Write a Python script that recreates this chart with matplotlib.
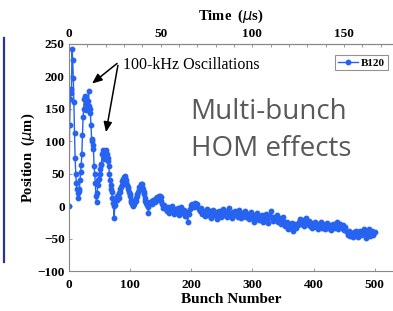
import numpy as np
import matplotlib
matplotlib.use("Agg")
import matplotlib.pyplot as plt
from matplotlib.lines import Line2D

# ---- data ----
bunch_early = list(range(0, 153))
pos_early = [0, 125, 165, 175, 180, 243, 226, 198, 160, 113,
             75, 50, 36, 26, 20, 12, 24, 27, 40, 52,
             63, 80, 110, 137, 150, 165, 170, 158, 148, 156,
             150, 162, 178, 155, 150, 143, 125, 104, 100, 95,
             88, 62, 50, 35, 15, 6, 20, 33, 40, 42,
             50, 58, 63, 65, 80, 87, 82, 76, 73, 75,
             80, 87, 80, 75, 70, 62, 50, 40, 32, 26,
             22, 12, 5, 0, -18, 8, 2, 12, 16, 10,
             16, 12, 20, 22, 26, 30, 32, 38, 42, 40,
             45, 44, 46, 40, 37, 33, 30, 26, 22, 18,
             16, 10, 6, 4, 2, 0, 5, 3, 8, 8,
             12, 15, 19, 22, 25, 29, 28, 32, 34, 30,
             34, 26, 22, 18, 13, 8, 5, 2, 6, -2,
             -10, 4, 6, 5, 5, 8, 3, 6, 10, 8,
             10, 6, 12, 9, 14, 10, 13, 15, 12, 15,
             14, 8, 3]
bunch_late = list(range(154, 501, 2))
pos_late = [-3, 2, -5, -8, -2, -10, -4, 0, -7, -12,
            -5, -9, -3, -14, -8, -2, -10, -6, -15, -9,
            -25, -12, -5, 2, 4, -2, 5, 0, 3, -4,
            -8, -3, -12, -7, -15, -10, -4, -13, -8, -18,
            -10, -6, -14, -9, -20, -12, -7, -16, -11, -5,
            -13, -8, -17, -10, -3, -12, -18, -9, -14, -7,
            -11, -16, -6, -13, -19, -10, -15, -8, -17, -12,
            -20, -14, -9, -18, -24, -13, -19, -11, -22, -16,
            -21, -14, -25, -18, -12, -20, -26, -15, -8, -19,
            -23, -17, -21, -14, -24, -19, -28, -22, -17, -25,
            -30, -24, -36, -28, -33, -26, -38, -30, -27, -34,
            -29, -24, -20, -27, -22, -31, -25, -19, -28, -23,
            -30, -26, -33, -27, -24, -32, -28, -35, -29, -25,
            -33, -28, -36, -30, -26, -34, -29, -37, -31, -27,
            -33, -28, -25, -35, -30, -27, -34, -29, -37, -32,
            -40, -45, -38, -46, -42, -48, -40, -44, -39, -47,
            -43, -38, -45, -41, -36, -44, -49, -40, -35, -46,
            -42, -38, -45, -40]
series_label = "B120"
xticks = [0, 100, 200, 300, 400, 500]
yticks = [-100, -50, 0, 50, 100, 150, 200, 250]
time_ticks = [0, 50, 100, 150]
annot_text = "100-kHz Oscillations"
side_text = "Multi-bunch\nHOM effects"

bunch = np.array(bunch_early + bunch_late)
pos = np.array(pos_early + pos_late)

W, H = 393, 311
fig = plt.figure(figsize=(W / 100, H / 100), dpi=100)
ax = fig.add_axes([69 / W, 40 / H, (W - 69) / W, 227 / H])

blue = "#2563f0"
serif = "Liberation Serif"
ax.plot(bunch, pos, color=blue, lw=1.0, marker="o", ms=3.2,
        mec=blue, mfc=blue, label=series_label)

ax.set_xlim(0, 530)
ax.set_ylim(-100, 250)
ax.set_xticks(xticks)
ax.set_yticks(yticks)
ax.tick_params(direction="in", length=2.5, width=0.6, colors="#888888",
               labelcolor="black", pad=3)
ax.tick_params(axis="x", pad=6)
for lab in ax.get_xticklabels() + ax.get_yticklabels():
    lab.set_fontfamily(serif)
    lab.set_fontweight("bold")
    lab.set_fontsize(9.5)

for s in ["left", "bottom", "top"]:
    ax.spines[s].set_color("#888888")
    ax.spines[s].set_linewidth(0.8)
ax.spines["right"].set_visible(False)

ax.set_xlabel("Bunch Number", fontfamily=serif, fontweight="bold",
              fontsize=11, labelpad=1)
ax.set_ylabel(r"Position  ($\mu$m)", fontfamily=serif, fontweight="bold",
              fontsize=10.5)
ax.yaxis.set_label_coords(-0.10, 0.5)

sec = ax.secondary_xaxis("top", functions=(lambda b: b / 3.0, lambda t: t * 3.0))
sec.set_xticks(time_ticks)
sec.set_xticks(np.arange(0, 180, 10), minor=True)
sec.tick_params(which="both", direction="in", length=2, width=0.6,
                colors="#888888", labelcolor="black", pad=3)
for lab in sec.get_xticklabels():
    lab.set_fontfamily(serif)
    lab.set_fontweight("bold")
    lab.set_fontsize(9.5)
sec.spines["top"].set_color("#888888")
sec.set_xlabel(r"Time  ($\mu$s)", fontfamily=serif, fontweight="bold",
               fontsize=10.5, labelpad=6)

leg = ax.legend(loc="upper right", bbox_to_anchor=((388 - 69) / (W - 69), 1 - 11 / 227),
                prop={"family": serif, "weight": "bold", "size": 8},
                frameon=True, fancybox=False, edgecolor="#777777",
                handlelength=1.8, handletextpad=0.3, borderpad=0.25,
                borderaxespad=0)
leg.get_frame().set_linewidth(0.8)

arrow_kw = dict(arrowstyle="-|>,head_width=0.25,head_length=0.6",
                color="black", lw=1.1, shrinkA=0, shrinkB=0)
ax.annotate("", xy=(37.6, 189), xytext=(78.6, 220), arrowprops=arrow_kw)
ax.annotate("", xy=(60.5, 114), xytext=(80, 217), arrowprops=arrow_kw)
ax.text(88, 217, annot_text, fontfamily=serif, fontsize=11.5,
        ha="left", va="center")

ax.text(199, 117, side_text, fontfamily="Open Sans", fontsize=20,
        color="#595959", ha="left", va="center", linespacing=1.42)

fig.add_artist(Line2D([3.5 / W, 3.5 / W], [1 - 38 / H, 1 - 262 / H],
                      color="#2b3590", lw=1.6))

fig.savefig("out.png", dpi=100)
